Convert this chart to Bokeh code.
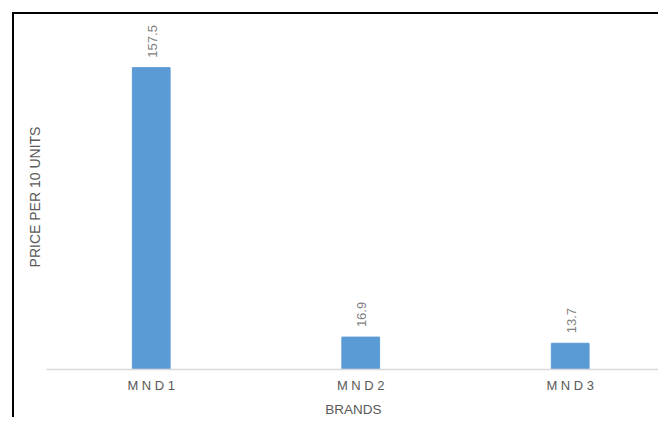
import math
from bokeh.plotting import figure
from bokeh.models import Range1d, FixedTicker, ColumnDataSource
from bokeh.core.properties import value
from bokeh.embed import file_html
from bokeh.resources import INLINE

# ---- data ----
brands = ["M N D 1", "M N D 2", "M N D 3"]
prices = [157.5, 16.9, 13.7]
price_labels = ["157.5", "16.9", "13.7"]
x_title = "BRANDS"
y_title = "PRICE PER 10 UNITS"

xs = [i + 0.5 for i in range(len(brands))]
src = ColumnDataSource(dict(x=xs, top=prices, label=price_labels))

FONT = "Liberation Sans"
GREY = "#595959"

p = figure(width=646, height=405, output_backend="svg", toolbar_location=None,
           x_range=Range1d(0, 2.931), y_range=Range1d(0, 180),
           min_border_left=32, min_border_right=0, min_border_top=10, min_border_bottom=49,
           margin=(12, 0, 0, 12),
           styles={"border-left": "2px solid #000", "border-top": "2px solid #000"})

p.vbar(x="x", top="top", width=0.18, source=src,
       fill_color="#5B9BD5", line_color="#5B9BD5")
p.text(x="x", y="top", text="label", source=src, angle=math.pi / 2,
       text_align="left", text_baseline="middle", y_offset=-10, x_offset=1,
       text_font=value(FONT), text_font_size="13px", text_color="#7f7f7f")

p.outline_line_color = None
p.grid.visible = False
p.background_fill_color = "white"
p.border_fill_color = "white"

xa = p.xaxis[0]
xa.ticker = FixedTicker(ticks=xs)
xa.major_label_overrides = {x: b for x, b in zip(xs, brands)}
xa.axis_line_color = "#d9d9d9"
xa.axis_line_width = 1.5
xa.major_tick_line_color = None
xa.minor_tick_line_color = None
xa.major_tick_out = 0
xa.major_tick_in = 0
xa.minor_tick_out = 0
xa.major_label_standoff = 8
xa.major_label_text_font = FONT
xa.major_label_text_font_size = "13px"
xa.major_label_text_color = GREY
xa.axis_label = x_title
xa.axis_label_standoff = 6
xa.axis_label_text_font = FONT
xa.axis_label_text_font_size = "13.5px"
xa.axis_label_text_font_style = "normal"
xa.axis_label_text_color = GREY

ya = p.yaxis[0]
ya.ticker = FixedTicker(ticks=[])
ya.axis_line_color = None
ya.major_tick_line_color = None
ya.minor_tick_line_color = None
ya.major_tick_out = 0
ya.major_tick_in = 0
ya.minor_tick_out = 0
ya.axis_label = y_title
ya.axis_label_standoff = 4
ya.axis_label_text_font = FONT
ya.axis_label_text_font_size = "14px"
ya.axis_label_text_font_style = "normal"
ya.axis_label_text_color = GREY

open("out.html", "w").write(file_html(p, INLINE))
